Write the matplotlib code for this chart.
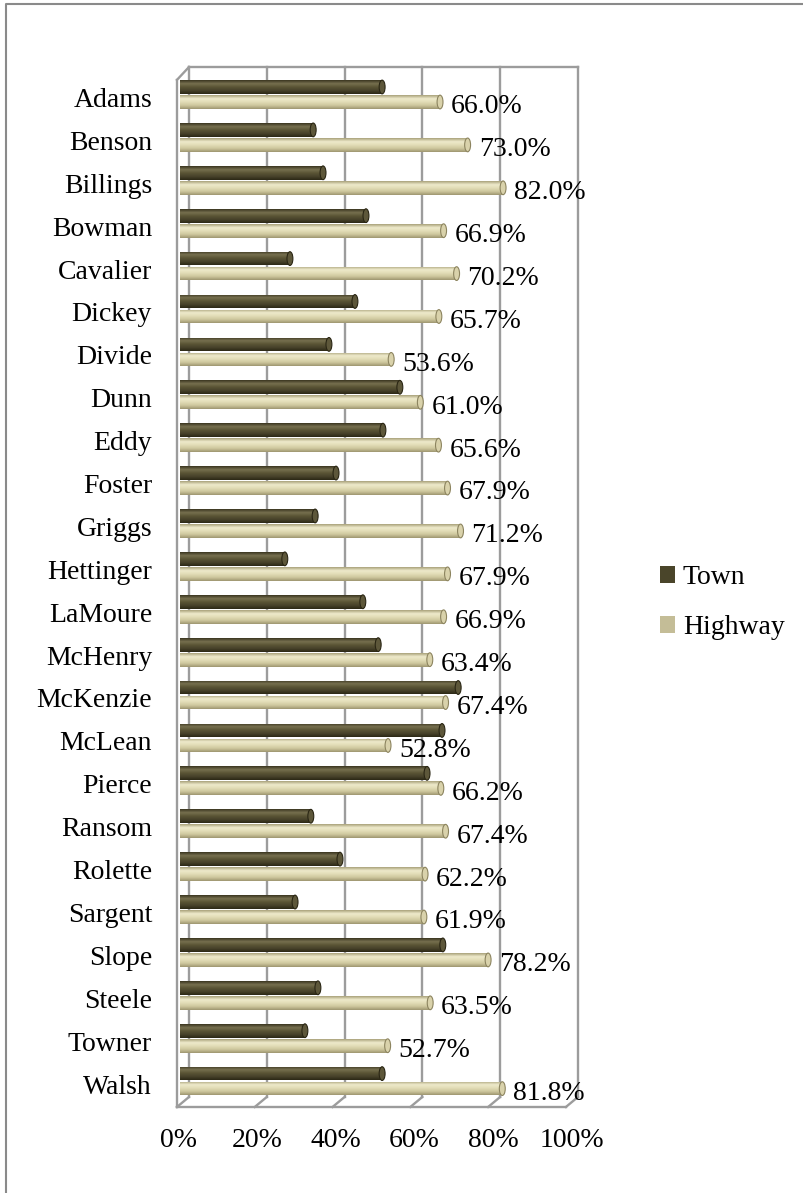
import matplotlib.pyplot as plt
import numpy as np
from matplotlib.colors import LinearSegmentedColormap
from matplotlib.patches import Ellipse, Patch
from matplotlib.lines import Line2D

plt.rcParams['font.family'] = ['Liberation Serif', 'DejaVu Serif']

# ---- data ----
counties = ["Adams", "Benson", "Billings", "Bowman", "Cavalier", "Dickey",
            "Divide", "Dunn", "Eddy", "Foster", "Griggs", "Hettinger",
            "LaMoure", "McHenry", "McKenzie", "McLean", "Pierce", "Ransom",
            "Rolette", "Sargent", "Slope", "Steele", "Towner", "Walsh"]
town = [51.3, 33.8, 36.3, 47.2, 27.9, 44.4, 37.8, 55.8, 51.5, 39.6, 34.3, 26.6,
        46.4, 50.3, 70.6, 66.5, 62.7, 33.2, 40.6, 29.2, 66.7, 35.0, 31.7, 51.3]
highway = [66.0, 73.0, 82.0, 66.9, 70.2, 65.7, 53.6, 61.0, 65.6, 67.9, 71.2, 67.9,
           66.9, 63.4, 67.4, 52.8, 66.2, 67.4, 62.2, 61.9, 78.2, 63.5, 52.7, 81.8]
xticks = [0, 20, 40, 60, 80, 100]
xtick_labels = ["0%", "20%", "40%", "60%", "80%", "100%"]

FS = 20
W, H = 804, 1193
fig = plt.figure(figsize=(W / 100, H / 100), dpi=100)
# axes box in pixels: x 160..600, y 55..1115
ax = fig.add_axes([160 / W, 78 / H, 440 / W, 1060 / H])
ax.set_axis_off()

y = np.arange(len(counties))
bh = 0.32
off = 0.175

# ---- 3D frame: back wall, left wall, floor ----
grid_c = "#9c9c9c"
lw = 1.7
bx0, bx1 = 2.28, 101.0          # back wall left/right
ytop, ybot = -0.641, 23.37      # back wall top/bottom
dx, dy = -3.05, 0.233           # depth offset toward viewer

def back_x(t):
    return bx0 + t * (bx1 - bx0) / 100.0

for t in xticks:
    xb = back_x(t)
    ax.plot([xb, xb], [ytop, ybot], color=grid_c, lw=lw, zorder=1)
    ax.plot([xb, xb + dx], [ybot, ybot + dy], color=grid_c, lw=lw, zorder=1)
ax.plot([bx0, bx1], [ytop, ytop], color=grid_c, lw=lw, zorder=1)
# left wall
ax.plot([bx0 + dx, bx0 + dx], [ytop + 0.3, ybot + dy], color=grid_c, lw=lw, zorder=1)
ax.plot([bx0 + dx, bx0], [ytop + 0.3, ytop], color=grid_c, lw=lw, zorder=1)
# floor front edge
ax.plot([bx0 + dx, bx1 + dx], [ybot + dy, ybot + dy], color=grid_c, lw=lw, zorder=1)

# ---- cylinder bars ----
town_cmap = LinearSegmentedColormap.from_list(
    "town", ["#3a3520", "#77704f", "#5a5435", "#47422a", "#2c2816"])
hwy_cmap = LinearSegmentedColormap.from_list(
    "hwy", ["#a9a17a", "#eeeacb", "#e2dcb6", "#cdc69c", "#9e9670"])
grad = np.linspace(0, 1, 64).reshape(-1, 1)

def cylinders(vals, yc, cmap, base, cap_face, cap_edge):
    bars = ax.barh(yc, vals, height=bh, color=base, linewidth=0, zorder=3)
    for b, v in zip(bars, vals):
        y0 = b.get_y()
        im = ax.imshow(grad, cmap=cmap, aspect="auto", interpolation="bilinear",
                       extent=(0, v, y0 + bh, y0), zorder=4)
        im.set_clip_path(b)
        ax.add_patch(Ellipse((v, y0 + bh / 2), 1.5, bh, facecolor=cap_face,
                             edgecolor=cap_edge, lw=0.8, zorder=5))
    return bars

cylinders(town, y - off, town_cmap, "#4a452a", "#5d573a", "#2a2614")
cylinders(highway, y + off, hwy_cmap, "#c4bd97", "#d9d2ab", "#8c845f")
ax.set_xlim(-5.076, 106.6)
ax.set_ylim(23.79, -0.921)

# value labels on highway bars
for yi, v in zip(y, highway):
    ax.text(v + 2.8, yi + 0.44, f"{v:.1f}%", fontsize=FS, ha="left",
            va="baseline", zorder=6)

# category labels
for yi, name in zip(y, counties):
    ax.text(-7.1, yi + 0.29, name, fontsize=FS, ha="right", va="baseline")

# x tick labels under the floor
for t, lab in zip(xticks, xtick_labels):
    ax.text(t - 0.5, 24.39, lab, fontsize=FS, ha="center", va="center")

# legend
handles = [Patch(facecolor="#4a452a", edgecolor="none", label="Town"),
           Patch(facecolor="#c4bd97", edgecolor="none", label="Highway")]
fig.legend(handles=handles, loc="center left", frameon=False, fontsize=FS,
           bbox_to_anchor=(660 / W, 1 - 603 / H), borderpad=0, borderaxespad=0,
           handlelength=0.55, handleheight=0.55, handletextpad=0.27,
           labelspacing=0.9)

# outer chart border
fig.add_artist(Line2D([6 / W, 6 / W, 1.01], [-0.01, 1 - 4 / H, 1 - 4 / H],
                      transform=fig.transFigure, color="#8a8a8a", lw=1.5))

fig.savefig("out.png", dpi=100, facecolor="white")
